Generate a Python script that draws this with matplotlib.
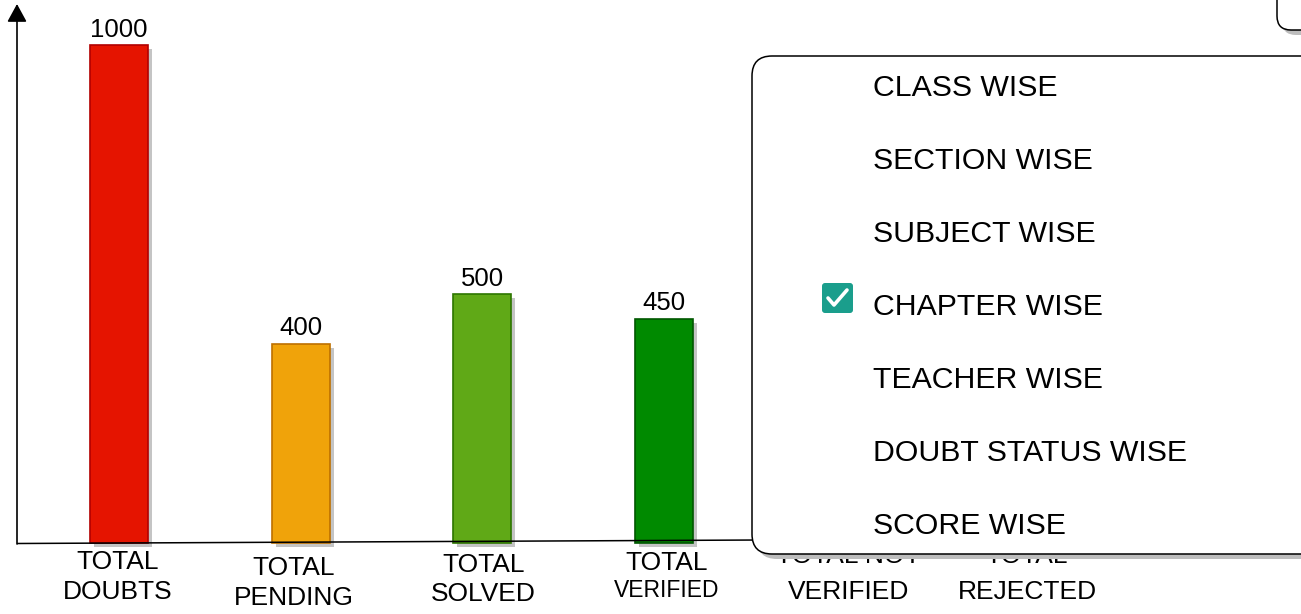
import matplotlib
matplotlib.use('Agg')
import matplotlib.pyplot as plt
import matplotlib.patheffects as pe
import matplotlib.transforms as mtransforms
from matplotlib.patches import FancyBboxPatch

plt.rcParams['font.family'] = ['Liberation Sans', 'DejaVu Sans']

categories = ['TOTAL\nDOUBTS', 'TOTAL\nPENDING', 'TOTAL\nSOLVED',
              'TOTAL\nVERIFIED', 'TOTAL NOT\nVERIFIED', 'TOTAL\nREJECTED']
counts = [1000, 400, 500, 450, 350, 150]
fills = ['#e51400', '#f0a30a', '#60a917', '#008a00', '#1ba1e2', '#a20025']
edges = ['#b20000', '#bd7000', '#2d7600', '#005700', '#006eaf', '#6f0000']

menu_items = ['CLASS WISE', 'SECTION WISE', 'SUBJECT WISE', 'CHAPTER WISE',
              'TEACHER WISE', 'DOUBT STATUS WISE', 'SCORE WISE']
checked = 'CHAPTER WISE'

W, H = 1301, 614
fig = plt.figure(figsize=(W / 100, H / 100), dpi=100)

# bar area: left edge on the y axis, bottom edge on the x axis
ax = fig.add_axes([17 / W, (H - 543) / H, 1 - 17 / W, 543 / H])
ax.set_xlim(-0.5617, 6.509)
ax.set_ylim(0, 1090)
ax.axis('off')

# overlay in pixel units for the axis arrows and the dropdown
ov = fig.add_axes([0, 0, 1, 1], zorder=3)
ov.set_xlim(0, W)
ov.set_ylim(H, 0)
ov.axis('off')

shadow = [pe.SimplePatchShadow(offset=(3, -3), shadow_rgbFace='#c4c4c4', alpha=1), pe.Normal()]
x = list(range(len(counts)))
bars = ax.bar(x, counts, width=0.32, color=fills, edgecolor=edges,
              linewidth=1.2, clip_on=False)
for b in bars:
    b.set_path_effects(shadow)

# the last two bars sit under the dropdown, so only the first four get a value
for i, v in enumerate(counts[:4]):
    ax.annotate(str(v), (i, v), xytext=(0, 6), textcoords='offset points',
                ha='center', va='baseline', fontsize=18.5)

# category labels: x from the bar scale, baselines in pixels
lab_tr = mtransforms.blended_transform_factory(ax.transData, ov.transData)
baselines = [(569, 599), (575, 605), (572, 601), (570, 597), (563, 599), (563, 599)]
nudges = [-1, -7, 1, 3, 3, 0]
for i, lab in enumerate(categories):
    for j, line in enumerate(lab.split('\n')):
        size = 16.5 if (i == 3 and j == 1) else 19
        ax.annotate(line, (i, baselines[i][j]), xycoords=lab_tr,
                    xytext=(nudges[i], 0), textcoords='offset pixels',
                    ha='center', va='baseline', fontsize=size)

# axes
ov.annotate('', xy=(17, 4), xytext=(17, 544),
            arrowprops=dict(arrowstyle='-|>,head_length=0.55,head_width=0.3',
                            color='black', lw=1.2, mutation_scale=20,
                            shrinkA=0, shrinkB=0))
ov.plot([17, 760], [543.5, 540], color='black', lw=1.1, solid_capstyle='butt', zorder=2)

box_shadow = [pe.SimplePatchShadow(offset=(3.6, -3.6), shadow_rgbFace='#bdbdbd', alpha=1), pe.Normal()]

# small box peeking in at the top right
top_box = FancyBboxPatch((1277, -60), 120, 90, boxstyle='round,pad=0,rounding_size=14',
                         fc='white', ec='black', lw=1.1, zorder=5)
top_box.set_path_effects(box_shadow)
ov.add_patch(top_box)

# dropdown menu
menu = FancyBboxPatch((752, 56), 620, 498, boxstyle='round,pad=0,rounding_size=20',
                      fc='white', ec='black', lw=1.1, zorder=5)
menu.set_path_effects(box_shadow)
ov.add_patch(menu)

for k, item in enumerate(menu_items):
    y = 96 + 73 * k
    ov.text(873, y, item, fontsize=21.8, va='baseline', ha='left', zorder=6)
    if item == checked:
        ov.add_patch(FancyBboxPatch((822, y - 32), 31, 30,
                                    boxstyle='round,pad=0,rounding_size=3',
                                    fc='#1a9e8c', ec='none', zorder=6))
        ov.plot([828, 834, 847], [y - 17, y - 10, y - 25], color='white', lw=2.6,
                solid_capstyle='round', solid_joinstyle='round', zorder=7)

fig.savefig('out.png', dpi=100)
